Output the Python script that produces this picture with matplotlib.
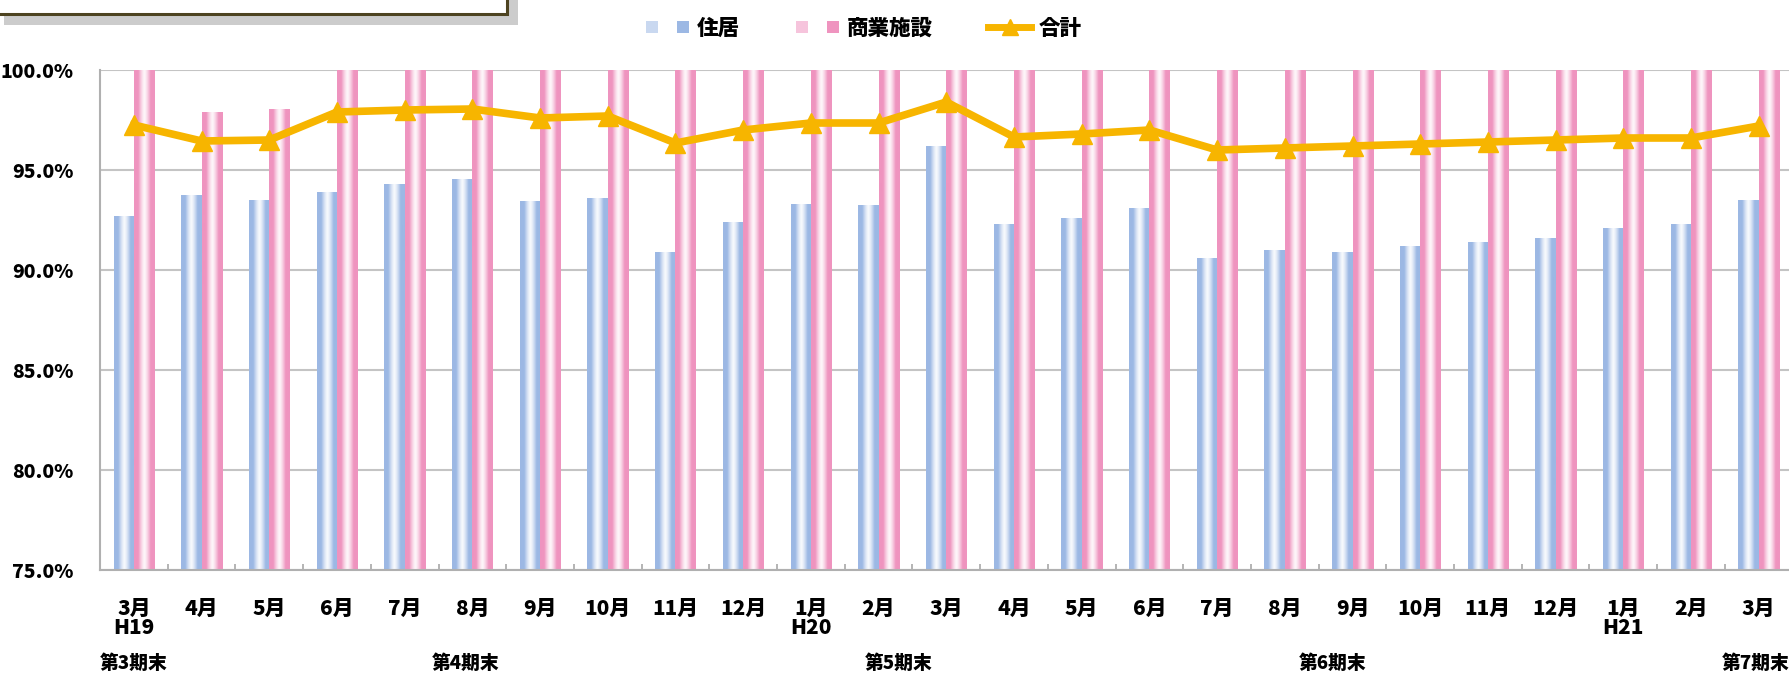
import numpy as np
import matplotlib
matplotlib.use("Agg")
import matplotlib.pyplot as plt
import matplotlib.colors as mcolors
from matplotlib.patches import Rectangle
from matplotlib.lines import Line2D
from matplotlib.legend_handler import HandlerBase
import matplotlib.transforms as mtransforms

plt.rcParams['font.family'] = ['Noto Sans CJK JP', 'DejaVu Sans']
plt.rcParams['font.weight'] = 'heavy'

# ---- data ----
months = ["3月\nH19", "4月", "5月", "6月", "7月", "8月", "9月", "10月", "11月", "12月",
          "1月\nH20", "2月", "3月", "4月", "5月", "6月", "7月", "8月", "9月", "10月",
          "11月", "12月", "1月\nH21", "2月", "3月"]
residential = [92.7, 93.75, 93.5, 93.9, 94.3, 94.55, 93.45, 93.6, 90.9, 92.4,
               93.3, 93.25, 96.2, 92.3, 92.6, 93.1, 90.6, 91.0, 90.9, 91.2,
               91.4, 91.6, 92.1, 92.3, 93.5]
commercial = [100.0, 97.9, 98.05, 100.0, 100.0, 100.0, 100.0, 100.0, 100.0, 100.0,
              100.0, 100.0, 100.0, 100.0, 100.0, 100.0, 100.0, 100.0, 100.0, 100.0,
              100.0, 100.0, 100.0, 100.0, 100.0]
total = [97.25, 96.45, 96.5, 97.9, 98.0, 98.05, 97.6, 97.7, 96.35, 97.0,
         97.35, 97.35, 98.4, 96.65, 96.8, 97.0, 96.0, 96.1, 96.2, 96.3,
         96.4, 96.5, 96.6, 96.6, 97.2]
periods = ["第3期末", "第4期末", "第5期末", "第6期末", "第7期末"]
period_at = [0.0, 4.9, 11.3, 17.7, 23.95]
yticks = [75, 80, 85, 90, 95, 100]

BLUE = "#9cb8e4"
PINK = "#ef94bf"
GOLD = "#f7b500"
GRID = "#c4c4c4"

W, H = 1789, 674
fig = plt.figure(figsize=(W / 100, H / 100), dpi=100)
ax = fig.add_axes([100 / W, (H - 570) / H, (W - 100) / W + 0.002, 500 / H])

x = np.arange(len(months))
bw = 0.3


def stripe_image(color, n=64):
    rgb = np.array(mcolors.to_rgb(color))
    t = np.linspace(0, 1, n)
    f = np.clip(np.abs(2 * t - 1) / 0.6, 0, 1) ** 1.4
    f = 0.08 + 0.92 * f
    img = 1 - (1 - rgb)[None, :] * f[:, None]
    return img[None, :, :]


def gradient_bars(positions, values, color):
    bars = ax.bar(positions, values, width=bw, color='none', edgecolor='none', zorder=2)
    img = stripe_image(color)
    for p in bars.patches:
        ax.imshow(img, extent=(p.get_x(), p.get_x() + p.get_width(), 0, p.get_height()),
                  aspect='auto', interpolation='bilinear', zorder=2)
    return bars


gradient_bars(x - bw / 2, residential, BLUE)
gradient_bars(x + bw / 2, commercial, PINK)

ax.plot(x, total, color=GOLD, lw=5.5, marker='^', markersize=14,
        markeredgecolor=GOLD, zorder=4, solid_joinstyle='round')

ax.set_xlim(-0.5, len(months) - 0.5)
ax.set_ylim(75, 100)
ax.set_yticks(yticks)
ax.set_yticklabels([f"{v:.1f}%" for v in yticks], fontsize=14, fontweight='heavy')
ax.yaxis.grid(True, color=GRID, lw=1.5, zorder=0)
ax.set_axisbelow(True)

ax.set_xticks(x)
ax.set_xticklabels(months, fontsize=15, fontweight='heavy', linespacing=0.95)
ax.tick_params(axis='x', length=0, pad=21)
ax.tick_params(axis='y', length=0, pad=19)
ax.set_xticks(np.arange(-0.5, len(months), 1.0), minor=True)
ax.tick_params(axis='x', which='minor', direction='in', length=4, color='#a8a8a8', width=1.2)

for side in ('top', 'right'):
    ax.spines[side].set_visible(False)
for side in ('left', 'bottom'):
    ax.spines[side].set_color('#b0b0b0')
    ax.spines[side].set_linewidth(1.5)

trans = mtransforms.blended_transform_factory(ax.transData, ax.transAxes)
for name, pos in zip(periods, period_at):
    ax.text(pos, -0.186, name, transform=trans, ha='center', va='center',
            fontsize=13.5, fontweight='heavy', clip_on=False)


# legend with striped swatches
class StripeHandler(HandlerBase):
    def __init__(self, color):
        super().__init__()
        self.color = color

    def create_artists(self, legend, orig_handle, xdescent, ydescent, width, height,
                       fontsize, trans):
        sq = height * 0.8
        y0 = -ydescent + (height - sq) / 2
        light = tuple(1 - (1 - np.array(mcolors.to_rgb(self.color))) * 0.55)
        arts = []
        arts.append(Rectangle((-xdescent, y0), sq, sq, facecolor=light,
                              edgecolor='none', transform=trans))
        arts.append(Rectangle((-xdescent + width - sq, y0), sq, sq, facecolor=self.color,
                              edgecolor='none', transform=trans))
        return arts


h_res = Rectangle((0, 0), 1, 1, color=BLUE)
h_com = Rectangle((0, 0), 1, 1, color=PINK)
h_tot = Line2D([], [], color=GOLD, lw=5, marker='^', markersize=11)
fig.legend([h_res, h_com, h_tot], ["住居", "商業施設", "合計"],
           loc='center', bbox_to_anchor=(0.483, 0.958), ncol=3, frameon=False,
           handler_map={h_res: StripeHandler(BLUE), h_com: StripeHandler(PINK)},
           prop={'size': 15.5, 'weight': 'heavy'}, handlelength=2.0,
           handletextpad=0.35, columnspacing=2.6)

# partially visible header box in the top-left corner
fig.patches.append(Rectangle((4 / W, (H - 25) / H), 514 / W, 0.1, transform=fig.transFigure,
                             facecolor='#cccccc', edgecolor='none', zorder=0))
fig.patches.append(Rectangle((-0.01, (H - 14) / H), (507 + 18) / W, 0.1, transform=fig.transFigure,
                             facecolor='white', edgecolor='#4d4320', lw=2.2, zorder=1))

fig.savefig("out.png", dpi=100)
